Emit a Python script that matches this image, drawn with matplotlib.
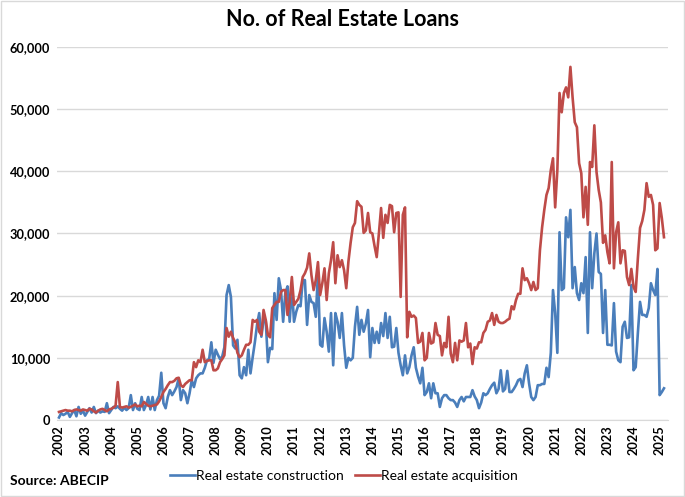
import matplotlib
matplotlib.use("Agg")
import matplotlib.pyplot as plt
from matplotlib.patches import Rectangle
from matplotlib.ticker import FuncFormatter
import numpy as np

start_year = 2002
years = list(range(2002, 2026))

construction = [
    400, 1100, 800, 1000, 1300, 500, 1100, 1600, 600, 2100, 1000, 1500,            # 2002
    700, 1300, 1900, 1200, 2100, 1100, 1500, 1200, 1400, 1300, 2700, 1100,          # 2003
    1600, 2100, 1900, 2200, 1800, 1500, 2000, 1600, 1900, 4000, 1600, 2700,         # 2004
    1800, 1600, 3700, 1600, 2400, 3700, 1700, 3700, 1600, 3200, 3900, 7600,         # 2005
    2700, 1900, 3700, 4800, 4000, 4600, 5300, 6700, 3200, 4800, 4300, 2700,         # 2006
    4300, 6400, 5300, 6700, 7200, 7500, 7500, 8400, 9600, 9800, 12500, 9200,        # 2007
    11300, 10500, 9800, 10200, 11700, 20100, 21700, 19800, 12000, 11500, 12900, 7200,  # 2008
    6700, 8500, 7200, 11300, 7500, 10100, 12500, 15300, 17200, 13400, 16100, 16000,  # 2009
    9300, 11600, 11400, 20400, 16100, 22800, 20900, 15800, 20400, 21500, 15800, 21400,  # 2010
    15800, 17400, 18500, 18300, 22500, 22500, 15300, 20100, 19000, 18800, 16600, 23600,  # 2011
    12100, 11800, 16400, 14200, 11000, 17200, 8800, 17200, 15800, 13200, 17200, 12000,  # 2012
    8400, 10000, 9600, 10000, 15000, 18200, 13700, 16100, 14200, 15500, 17700, 10100,  # 2013
    14800, 12400, 14200, 12400, 15600, 13500, 17200, 13200, 16600, 11700, 11800, 14800,  # 2014
    10800, 8800, 7200, 10400, 7500, 8500, 10400, 11700, 8400, 7000, 5900, 8400,     # 2015
    4000, 4500, 5900, 3500, 5900, 4300, 4300, 2100, 3500, 4000, 4000, 3500,         # 2016
    3200, 3200, 2800, 2100, 3200, 3700, 3000, 3700, 3700, 3700, 4800, 3800,         # 2017
    3200, 1900, 2800, 4300, 4000, 4300, 5000, 5600, 6000, 4300, 5000, 8000,         # 2018
    4600, 5000, 7900, 4500, 4500, 5000, 5600, 6400, 6600, 5300, 7500, 8800,         # 2019
    5900, 3700, 3200, 3700, 5600, 5600, 5800, 5800, 8400, 6900, 10800, 20900,       # 2020
    17200, 10800, 30200, 20900, 21200, 32600, 29400, 33800, 21200, 24600, 20400, 19300,  # 2021
    22000, 20400, 26200, 14000, 30200, 21200, 26800, 30000, 23800, 23500, 14000, 20900,  # 2022
    12100, 12100, 12000, 18800, 11000, 9600, 9300, 15000, 15800, 13200, 13300, 21700,  # 2023
    8000, 8500, 14000, 19000, 16900, 16900, 16600, 18000, 22000, 20900, 20100, 24300,  # 2024
    4000, 4500, 5100,                                                                # 2025
]

acquisition = [
    1300, 1400, 1500, 1600, 1500, 1500, 1400, 1600, 1700, 1600, 1500, 1700,         # 2002
    1600, 1500, 1800, 1700, 1400, 1200, 1500, 1700, 1800, 1600, 1400, 1700,         # 2003
    1800, 2000, 2300, 6100, 2100, 2000, 2100, 2200, 2000, 2100, 2300, 2500,         # 2004
    2200, 2300, 2200, 2900, 2600, 2300, 2200, 2300, 2400, 2500, 3000, 3700,         # 2005
    4500, 5000, 5600, 6100, 6100, 6300, 6700, 6800, 5600, 5300, 5800, 6100,         # 2006
    6400, 6400, 9300, 8500, 9600, 9300, 11300, 9300, 9500, 9600, 9600, 8000,        # 2007
    8000, 8300, 9300, 9800, 10400, 14800, 13400, 14200, 13200, 12500, 10800, 10100,  # 2008
    10400, 11300, 12100, 12100, 12500, 16100, 15800, 16100, 14200, 13700, 17700, 16100,  # 2009
    13700, 13300, 18000, 18500, 19000, 19000, 20600, 20900, 20900, 16900, 19000, 23000,  # 2010
    18500, 19000, 19500, 20900, 23000, 23600, 24500, 26800, 23300, 20900, 22500, 25400,  # 2011
    20100, 22000, 24400, 19300, 23600, 25700, 28600, 22000, 26500, 24600, 25700, 24100,  # 2012
    21200, 25500, 28500, 31000, 31700, 35200, 34600, 34300, 30100, 30500, 33300, 30200,  # 2013
    30000, 28000, 26200, 30000, 34100, 29300, 33000, 31700, 34600, 34400, 30200, 33300,  # 2014
    33400, 19800, 33000, 34200, 13300, 17400, 16600, 16800, 16400, 12400, 12600, 14000,  # 2015
    9600, 10000, 14000, 12300, 12500, 15600, 13700, 13500, 10400, 12400, 11700, 16600,  # 2016
    10700, 9300, 12400, 9600, 12800, 12600, 12800, 15600, 11700, 12300, 9000, 11700,  # 2017
    11500, 12500, 12500, 14000, 14500, 15800, 16000, 17200, 15300, 16900, 15800, 15600,  # 2018
    15600, 15800, 16100, 16300, 18300, 17800, 19300, 20300, 20300, 24400, 22500, 22800,  # 2019
    22000, 20900, 22200, 20900, 21200, 27300, 31000, 33800, 36200, 37300, 40200, 42100,  # 2020
    34200, 40200, 52600, 49500, 52600, 53500, 51900, 56800, 51900, 47900, 47100, 41300,  # 2021
    39700, 32600, 37500, 31400, 41500, 40700, 47400, 39900, 37000, 35000, 28500, 29700,  # 2022
    27000, 25200, 41500, 24400, 30200, 31800, 25200, 27300, 27200, 23000, 21700, 24300,  # 2023
    21400, 20600, 26000, 30900, 32000, 33800, 38100, 35900, 36200, 34600, 27300, 27600,  # 2024
    34900, 32500, 29400,                                                             # 2025
]

series_labels = ["Real estate construction", "Real estate acquisition"]
colors = ["#4A7EBB", "#BE4B48"]

x = start_year + np.arange(len(construction)) / 12.0

FONT = "Lato"
fig = plt.figure(figsize=(6.85, 4.97), dpi=100)
fig.patches.append(Rectangle((0.0015, 0.002), 0.997, 0.996, transform=fig.transFigure,
                             fill=False, edgecolor="#d9d9d9", linewidth=1.0))
ax = fig.add_axes([57 / 685, 1 - 420 / 497, (668 - 57) / 685, (420 - 47) / 497])

l1, = ax.plot(x, construction, color=colors[0], linewidth=1.9, label=series_labels[0])
l2, = ax.plot(x, acquisition, color=colors[1], linewidth=1.9, label=series_labels[1])

ax.set_xlim(2002 - 2 / 26.2, 2002 + 611 / 26.2)
ax.set_ylim(0, 60000)
ax.set_yticks(np.arange(0, 60001, 10000))
ax.yaxis.set_major_formatter(FuncFormatter(lambda v, p: f"{int(v):,}"))
ax.set_xticks(years)
ax.set_xticklabels([str(y) for y in years], rotation=90)
ax.grid(axis="y", color="#d9d9d9", linewidth=1.0)
ax.set_axisbelow(True)
for s in ["top", "right", "left"]:
    ax.spines[s].set_visible(False)
ax.spines["bottom"].set_color("#d9d9d9")
ax.tick_params(axis="both", length=0)
ax.tick_params(axis="y", pad=5)
ax.tick_params(axis="x", pad=4)
for lab in ax.get_yticklabels() + ax.get_xticklabels():
    lab.set_fontfamily(FONT)
    lab.set_fontweight("bold")
    lab.set_fontsize(9.2)
    lab.set_color("black")

fig.text(0.5, 1 - 20 / 497, "No. of Real Estate Loans", ha="center", va="center",
         fontfamily=FONT, fontweight="bold", fontsize=15.5)
fig.text(10 / 685, 1 - 481 / 497, "Source: ABECIP", ha="left", va="center",
         fontfamily=FONT, fontweight="bold", fontsize=10)

leg = fig.legend(handles=[l1, l2], loc="center", bbox_to_anchor=(344 / 685, 1 - 476 / 497),
                 ncol=2, frameon=False, prop={"family": FONT, "size": 10},
                 handlelength=1.8, handletextpad=0.1, columnspacing=0.8)

fig.savefig("out.png", dpi=100)
